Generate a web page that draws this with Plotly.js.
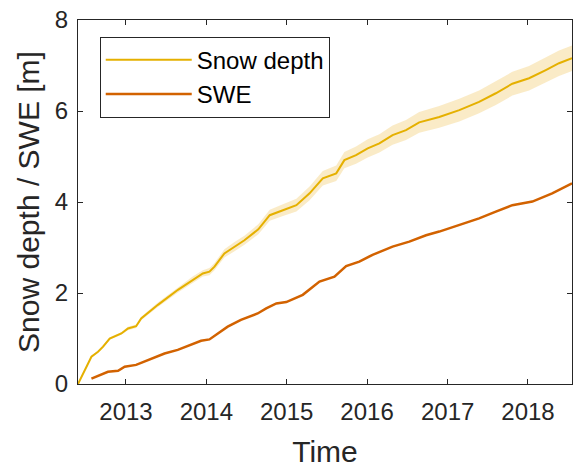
<!DOCTYPE html>
<html>
<head>
<meta charset="utf-8">
<script src="https://cdn.plot.ly/plotly-3.0.1.min.js"></script>
<style>
html,body{margin:0;padding:0;background:#fff;}
#chart{width:573px;height:470px;}
</style>
</head>
<body>
<div id="chart"></div>
<script>
// Snow depth series
const sdDates = ['2012-05-28','2012-07-28','2012-08-27','2012-09-19','2012-10-19','2012-12-11','2013-01-10','2013-02-16','2013-03-11','2013-05-26','2013-08-25','2013-10-31','2013-12-16','2014-01-15','2014-02-07','2014-03-24','2014-05-09','2014-06-23','2014-08-25','2014-10-16','2014-12-15','2015-02-14','2015-04-15','2015-06-14','2015-08-14','2015-09-20','2015-11-12','2016-01-04','2016-02-26','2016-04-26','2016-06-26','2016-08-25','2016-11-24','2017-02-23','2017-05-24','2017-08-08','2017-10-22','2018-01-06','2018-03-23','2018-05-22','2018-07-20'];
const sdValues = [0.00,0.60,0.71,0.82,1.00,1.11,1.22,1.27,1.44,1.74,2.07,2.29,2.43,2.47,2.58,2.87,3.02,3.16,3.40,3.71,3.82,3.93,4.19,4.52,4.63,4.92,5.03,5.18,5.29,5.47,5.58,5.75,5.87,6.02,6.20,6.39,6.60,6.72,6.90,7.05,7.16];
const sdUnc = [0,0.02,0.02,0.03,0.03,0.03,0.04,0.04,0.04,0.05,0.06,0.07,0.07,0.08,0.08,0.09,0.10,0.10,0.11,0.12,0.13,0.14,0.15,0.16,0.17,0.18,0.19,0.20,0.20,0.21,0.22,0.23,0.24,0.25,0.25,0.26,0.26,0.27,0.27,0.28,0.28];

// SWE series
const sweDates = ['2012-07-28','2012-10-11','2012-11-26','2012-12-26','2013-02-16','2013-04-25','2013-06-25','2013-08-24','2013-10-24','2013-12-08','2014-01-15','2014-02-22','2014-04-08','2014-06-07','2014-08-22','2014-09-30','2014-11-15','2014-12-30','2015-01-29','2015-03-15','2015-05-30','2015-08-06','2015-09-28','2015-11-27','2016-01-26','2016-04-26','2016-07-11','2016-09-25','2016-11-24','2017-02-23','2017-05-24','2017-08-08','2017-10-22','2018-01-21','2018-04-21','2018-07-20'];
const sweValues = [0.12,0.27,0.29,0.38,0.42,0.56,0.67,0.75,0.86,0.95,0.98,1.11,1.26,1.41,1.55,1.66,1.77,1.80,1.86,1.96,2.25,2.36,2.59,2.69,2.84,3.02,3.13,3.27,3.35,3.49,3.64,3.79,3.93,4.01,4.19,4.41];

const xTickVals = ['2013-01-01','2014-01-01','2015-01-01','2016-01-01','2017-01-01','2018-01-01'];
const xTickText = ['2013','2014','2015','2016','2017','2018'];
const seriesNames = ['Snow depth','SWE'];

const upper = sdValues.map((v,i)=>v+sdUnc[i]);
const lower = sdValues.map((v,i)=>Math.max(0,v-sdUnc[i]));

const FONT = 'Liberation Sans, Arial, Helvetica, sans-serif';
const TXT = '#262626';

const traces = [
  {
    x: sdDates.concat(sdDates.slice().reverse()),
    y: upper.concat(lower.slice().reverse()),
    type: 'scatter', mode: 'lines', fill: 'toself',
    fillcolor: 'rgba(237,177,32,0.25)', line: {width: 0, color: 'rgba(0,0,0,0)'},
    showlegend: false, hoverinfo: 'skip'
  },
  {
    x: sdDates, y: sdValues, type: 'scatter', mode: 'lines', name: seriesNames[0],
    line: {color: '#E5B000', width: 2}
  },
  {
    x: sweDates, y: sweValues, type: 'scatter', mode: 'lines', name: seriesNames[1],
    line: {color: '#D26200', width: 2.5}
  }
];

const layout = {
  width: 573, height: 470,
  margin: {l: 78, r: 1, t: 20, b: 86},
  paper_bgcolor: '#fff', plot_bgcolor: '#fff',
  font: {family: FONT, color: TXT, size: 24},
  showlegend: true,
  legend: {
    x: 0.044, y: 0.954, xanchor: 'left', yanchor: 'top',
    bordercolor: TXT, borderwidth: 1, bgcolor: '#fff',
    font: {family: FONT, size: 24, color: '#000'},
    itemwidth: 86, tracegroupgap: 0
  },
  xaxis: {
    type: 'date',
    range: ['2012-05-28', '2018-07-20'],
    tickvals: xTickVals, ticktext: xTickText,
    ticks: 'inside', ticklen: 5, tickcolor: TXT, tickwidth: 1,
    showline: true, linecolor: TXT, linewidth: 1, mirror: 'ticks',
    showgrid: false, zeroline: false,
    ticklabelstandoff: 6,
    tickfont: {family: FONT, size: 24, color: TXT},
    title: {text: 'Time', font: {family: FONT, size: 30, color: TXT}, standoff: 17}
  },
  yaxis: {
    range: [0, 8], tickvals: [0,2,4,6,8],
    ticks: 'inside', ticklen: 5, tickcolor: TXT, tickwidth: 1,
    showline: true, linecolor: TXT, linewidth: 1, mirror: 'ticks',
    showgrid: false, zeroline: false,
    ticklabelstandoff: 4,
    tickfont: {family: FONT, size: 24, color: TXT},
    title: {text: 'Snow depth / SWE [m]', font: {family: FONT, size: 30, color: TXT}, standoff: 6}
  }
};

Plotly.newPlot('chart', traces, layout, {displayModeBar: false, staticPlot: true});
</script>
</body>
</html>
